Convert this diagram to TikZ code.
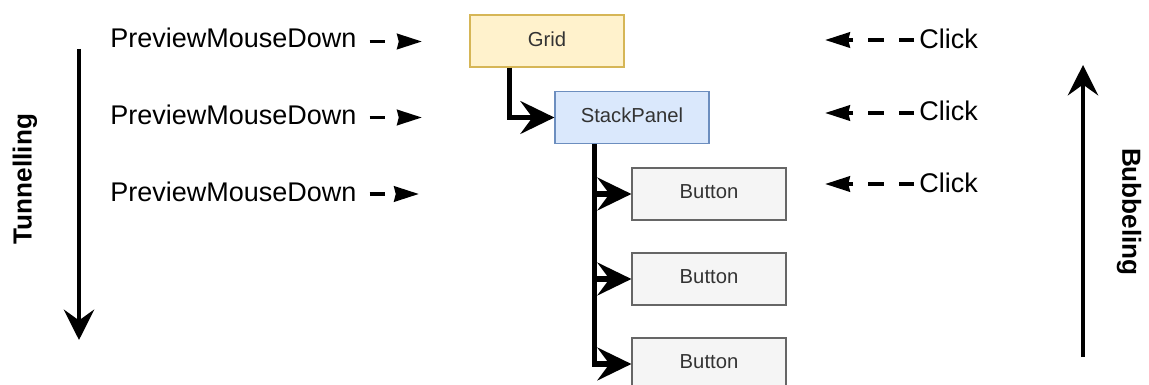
\documentclass[tikz,border=0pt]{standalone}
\usepackage{fontspec}
\setmainfont{Liberation Sans}
\usetikzlibrary{arrows.meta,positioning}
\definecolor{gridfill}{HTML}{FFF2CC}
\definecolor{griddraw}{HTML}{D6B656}
\definecolor{stackfill}{HTML}{DAE8FC}
\definecolor{stackdraw}{HTML}{6C8EBF}
\definecolor{btnfill}{HTML}{F5F5F5}
\definecolor{btndraw}{HTML}{666666}
\definecolor{boxtext}{HTML}{333333}
\newcommand{\evt}[1]{{\fontsize{19.2}{23}\selectfont #1}}
\newcommand{\dirl}[1]{{\fontsize{18.6}{22}\selectfont\bfseries #1}}

\begin{document}
\begin{tikzpicture}[
  x=0.025cm, y=-0.025cm,
  elem/.style={draw, line width=0.8pt, minimum width=3.85cm, minimum height=1.3cm,
               inner sep=0pt, text depth=0.1cm, text=boxtext, font=\fontsize{14.4}{17}\selectfont},
  gridbox/.style={elem, fill=gridfill, draw=griddraw},
  stackbox/.style={elem, fill=stackfill, draw=stackdraw},
  btnbox/.style={elem, fill=btnfill, draw=btndraw},
  tree/.style={-{Stealth[length=8.5mm,width=8.2mm,inset=3mm]}, line width=3.6pt},
  dir/.style={-{Stealth[length=7.6mm,width=7.6mm,inset=2.7mm]}, line width=2.8pt},
  evarr/.style={-{Stealth[length=6.2mm,width=3.8mm,inset=0.4mm]}, line width=2.8pt,
                dash pattern=on 0.38cm off 0.38cm},
  lab/.style={inner sep=0pt},
]
\useasboundingbox (0,0) rectangle (1149,385);

% ---- element tree ----
\node[gridbox]  (grid)  at (547,41)    {Grid};
\node[stackbox] (stack) at (632,117.5) {StackPanel};
\node[btnbox]   (btn1)  at (709,194)   {Button};
\node[btnbox]   (btn2)  at (709,279)   {Button};
\node[btnbox]   (btn3)  at (709,364)   {Button};

\draw[tree] ([xshift=1cm]grid.south west) |- (stack.west);
\foreach \b in {btn1,btn2,btn3}
  \draw[tree] ([xshift=1cm]stack.south west) |- (\b.west);

% ---- tunnelling events ----
\foreach \i/\y in {1/48,2/125,3/202} {
  \node[lab, anchor=base west] (pmd\i) at (110,\y) {\evt{PreviewMouseDown}};
}
\coordinate (pmdend1) at (422,41.5);
\coordinate (pmdend2) at (422,117.5);
\coordinate (pmdend3) at (419,194);
\foreach \i in {1,2,3}
  \draw[evarr] (pmd\i.east |- pmdend\i) ++(13,0) -- (pmdend\i);

% ---- bubbling events ----
\foreach \i/\y in {1/49,2/121,3/193} {
  \node[lab, anchor=base west] (clk\i) at (919,\y) {\evt{Click}};
}
\coordinate (clkend1) at (825,40);
\coordinate (clkend2) at (825,113);
\coordinate (clkend3) at (825,184);
\foreach \i in {1,2,3}
  \draw[evarr] (clk\i.west |- clkend\i) ++(-5,0) -- (clkend\i);

% ---- direction arrows ----
\coordinate (tuntop) at (79,49);
\coordinate (tunbot) at (79,340);
\draw[dir] (tuntop) -- (tunbot);
\node[lab, rotate=90] (tun) at (25,179) {\dirl{Tunnelling}};

\coordinate (bubbot) at (1083,357);
\coordinate (bubtop) at (1083,65);
\draw[dir] (bubbot) -- (bubtop);
\node[lab, rotate=-90] (bub) at (1129,212) {\dirl{Bubbeling}};

\end{tikzpicture}
\end{document}
